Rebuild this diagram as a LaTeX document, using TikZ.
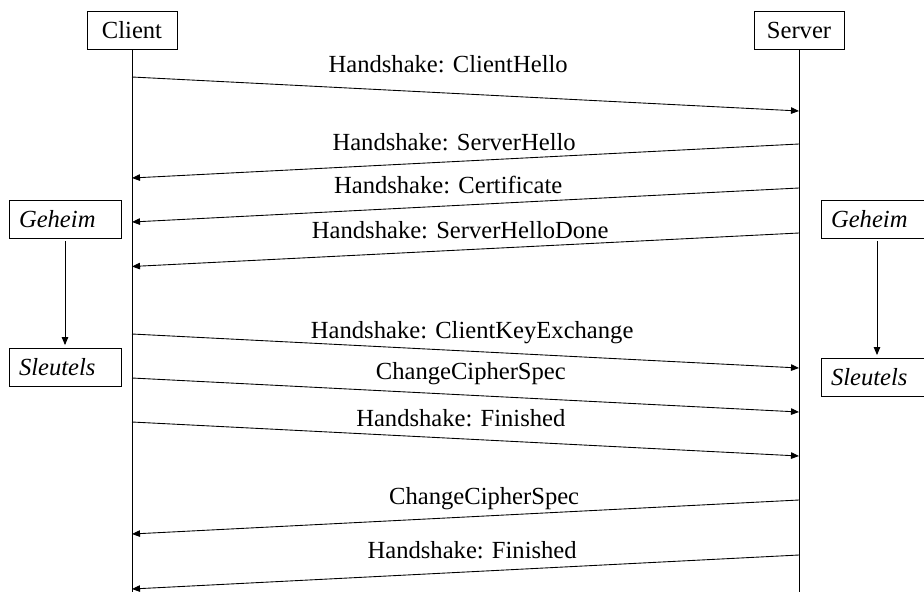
\documentclass[tikz,border=0pt]{standalone}
\usepackage{fontspec}
\setmainfont{Liberation Serif}
\usetikzlibrary{arrows.meta}
\tikzset{
  every picture/.style={font=\fontsize{14}{17}\selectfont, line width=0.5pt},
  actor/.style={draw, minimum width=1.8cm, minimum height=0.76cm, inner sep=0pt},
  keybox/.style={draw, font=\fontsize{14}{17}\selectfont\itshape, text width=1.84cm, align=left, inner xsep=0.2cm, inner ysep=0pt, minimum height=0.76cm},
  msg/.style={-{Triangle[length=1.6mm, width=1.3mm]}},
  lbl/.style={anchor=base, inner sep=0pt},
}
\begin{document}
\begin{tikzpicture}
  \useasboundingbox (0,0) rectangle (18.48,11.88);
  % parties and lifelines
  \node[actor] (client) at (2.64,11.28) {Client};
  \node[actor] (server) at (15.98,11.28) {Server};
  \coordinate (cend) at (2.64,0.04);
  \coordinate (send) at (15.98,0.04);
  \draw (client) -- (cend);
  \draw (server) -- (send);
  % key derivation on both sides
  \node[keybox] (cgeheim) at (1.30,7.50) {Geheim};
  \node[keybox] (csleutels) at (1.30,4.53) {Sleutels};
  \node[keybox] (sgeheim) at (17.54,7.50) {Geheim};
  \node[keybox] (ssleutels) at (17.54,4.33) {Sleutels};
  \draw[msg, shorten <=0.06cm, shorten >=0.06cm] (cgeheim) -- (csleutels);
  \draw[msg, shorten <=0.06cm, shorten >=0.06cm] (sgeheim) -- (ssleutels);
  % handshake messages
  \draw[msg] (client |- 0,10.34) -- node[lbl, pos=.474, yshift=.41cm] {Handshake: ClientHello} (server |- 0,9.66);
  \draw[msg] (server |- 0,9.00) -- node[lbl, pos=.517, yshift=.23cm] {Handshake: ServerHello} (client |- 0,8.32);
  \draw[msg] (server |- 0,8.12) -- node[lbl, pos=.526, yshift=.25cm] {Handshake: Certificate} (client |- 0,7.44);
  \draw[msg] (server |- 0,7.22) -- node[lbl, pos=.508, yshift=.24cm] {Handshake: ServerHelloDone} (client |- 0,6.55);
  \draw[msg] (client |- 0,5.20) -- node[lbl, pos=.510, yshift=.26cm] {Handshake: ClientKeyExchange} (server |- 0,4.52);
  \draw[msg] (client |- 0,4.32) -- node[lbl, pos=.508, yshift=.32cm] {ChangeCipherSpec} (server |- 0,3.64);
  \draw[msg] (client |- 0,3.44) -- node[lbl, pos=.493, yshift=.24cm] {Handshake: Finished} (server |- 0,2.76);
  \draw[msg] (server |- 0,1.88) -- node[lbl, pos=.472, yshift=.24cm] {ChangeCipherSpec} (client |- 0,1.20);
  \draw[msg] (server |- 0,0.78) -- node[lbl, pos=.490, yshift=.27cm] {Handshake: Finished} (client |- 0,0.10);
\end{tikzpicture}
\end{document}
